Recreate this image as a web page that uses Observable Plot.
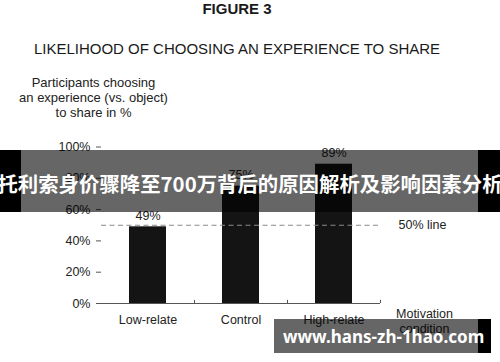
<!DOCTYPE html>
<html>
<head>
<meta charset="utf-8">
<script src="https://cdn.jsdelivr.net/npm/d3@7"></script>
<script src="https://cdn.jsdelivr.net/npm/@observablehq/plot@0.6"></script>
<style>
  html, body { margin: 0; padding: 0; background: #fff; }
  #wrap { position: relative; width: 500px; height: 362px; overflow: hidden; font-family: "Liberation Sans", Arial, sans-serif; color: #222; }
  .abs { position: absolute; white-space: nowrap; }
  #fig { left: 0; width: 474px; top: 1px; text-align: center; font-weight: bold; font-size: 15px; line-height: 15px; color: #1a1a1a; }
  #title { left: 0; width: 474px; top: 41px; text-align: center; font-size: 15px; line-height: 15px; color: #1a1a1a; }
  #ylabel { left: 0; width: 187px; top: 75px; text-align: center; font-size: 13px; line-height: 15px; }
  #chart { position: absolute; left: 0; top: 130px; }
  #band { left: 0; top: 149.5px; width: 500px; height: 62px; background: rgba(0,0,0,0.6); }
  #bandL { left: 0; top: 149.5px; width: 21px; height: 62px; background: #000; }
  #bandR { left: 478px; top: 149.5px; width: 22px; height: 62px; background: #000; }
  #bandText { left: -20px; width: 540px; top: 149.5px; height: 62px; line-height: 66px; text-align: center; color: #fff; font-family: "Noto Sans CJK SC", sans-serif; font-weight: bold; font-size: 20.4px; }
  #wm { left: 274px; top: 319px; width: 204px; height: 34px; background: rgba(0,0,0,0.6); }
  #wmR { left: 478px; top: 319px; width: 13px; height: 34px; background: #000; }
  #wmText { left: 283px; top: 319px; height: 34px; line-height: 35px; color: #fff; font-family: "Noto Sans", sans-serif; font-weight: bold; font-size: 17px; }
</style>
</head>
<body>
<div id="wrap">
  <div id="fig" class="abs">FIGURE 3</div>
  <div id="title" class="abs">LIKELIHOOD OF CHOOSING AN EXPERIENCE TO SHARE</div>
  <div id="ylabel" class="abs">Participants choosing<br>an experience (vs. object)<br>to share in %</div>
  <div id="chart"></div>
  <div id="band" class="abs"></div>
  <div id="bandL" class="abs"></div>
  <div id="bandR" class="abs"></div>
  <div id="bandText" class="abs">托利索身价骤降至700万背后的原因解析及影响因素分析</div>
  <div id="wm" class="abs"></div>
  <div id="wmR" class="abs"></div>
  <div id="wmText" class="abs">www.hans-zh-1hao.com</div>
</div>
<script>
const categories = ["Low-relate", "Control", "High-relate"];
const values = [49, 75, 89];
const yTicks = [0, 20, 40, 60, 80, 100];
const threshold = 50;
const thresholdLabel = "50% line";
const xAxisLabel = "Motivation\ncondition";

const data = categories.map((c, i) => ({category: c, value: values[i]}));

const chart = Plot.plot({
  width: 500,
  height: 232,
  marginTop: 16.5,
  marginBottom: 59,
  marginLeft: 101,
  marginRight: 120,
  style: {fontFamily: "Liberation Sans, Arial, sans-serif", fontSize: "12.5px", color: "#222", background: "transparent"},
  x: {domain: categories, paddingInner: 0.6, paddingOuter: 0.3},
  y: {domain: [0, 100]},
  marks: [
    Plot.barY(data, {x: "category", y: "value", fill: "#141414"}),
    Plot.ruleY([threshold], {stroke: "#8a8a8a", strokeWidth: 1.2, strokeDasharray: "5,3.5"}),
    Plot.text(data, {x: "category", y: "value", text: d => d.value + "%", dy: -11, fill: "#222", fontSize: 12.5}),
    Plot.axisY({ticks: yTicks, tickFormat: d => d + "%", tickSize: 5, tickPadding: 6, stroke: "#555", fill: "#222", fontSize: 12.5, label: null}),
    Plot.axisX({tickSize: 0, tickPadding: 12, fill: "#222", fontSize: 12.5, label: null}),
    Plot.ruleX([0], {x: () => 0, stroke: "#555"}),
    Plot.ruleY([0], {stroke: "#555", strokeWidth: 1.2}),
    Plot.ruleX(categories, {x: d => d, dx: 46.5, y1: 0, y2: 2, stroke: "#555"}),
    Plot.text([threshold], {y: d => d, frameAnchor: "right", dx: 18, textAnchor: "start", text: () => thresholdLabel, fill: "#222", fontSize: 12.5}),
    Plot.text([0], {y: d => d, frameAnchor: "right", dx: 44, dy: 17.5, textAnchor: "middle", lineHeight: 1.2, text: () => xAxisLabel, fill: "#222", fontSize: 12.5})
  ]
});
document.getElementById("chart").appendChild(chart);
</script>
</body>
</html>
